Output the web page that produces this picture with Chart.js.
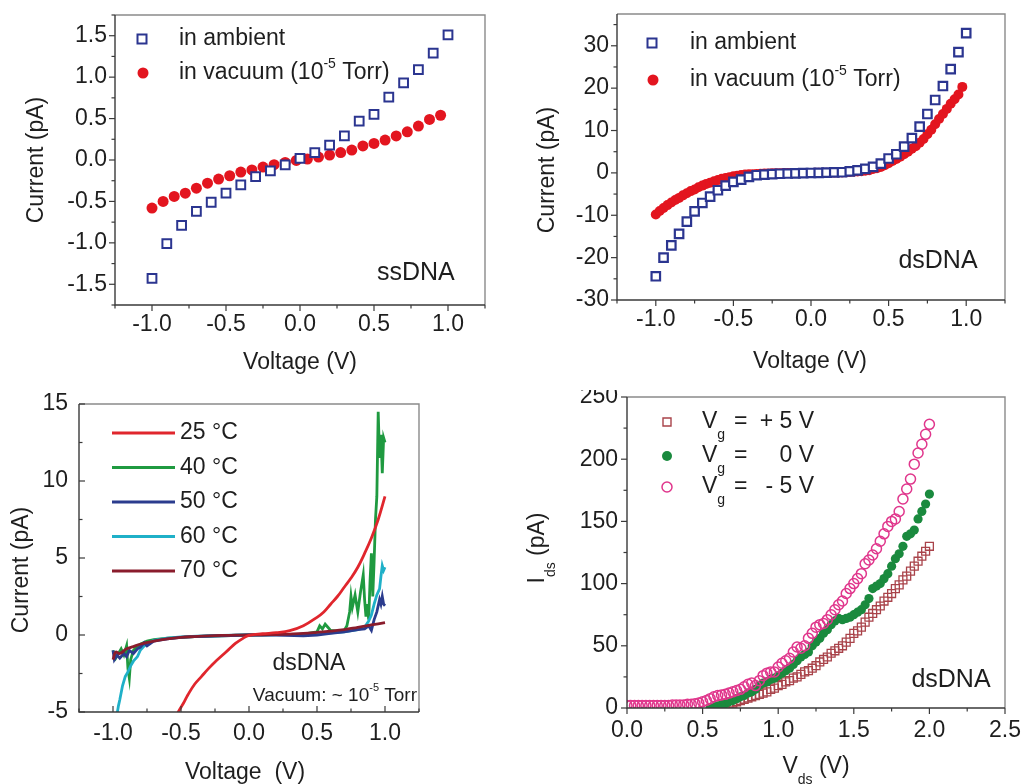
<!DOCTYPE html>
<html><head><meta charset="utf-8">
<script src="https://cdn.jsdelivr.net/npm/chart.js@4/dist/chart.umd.min.js"></script>
<style>
html,body{margin:0;padding:0;background:#fff;}
#wrap{position:relative;width:1022px;height:784px;overflow:hidden;background:#fff;}
canvas{position:absolute;}
</style></head><body>
<div id="wrap">
<canvas id="c1" width="510" height="390" style="left:0;top:0"></canvas>
<canvas id="c2" width="512" height="390" style="left:510px;top:0"></canvas>
<canvas id="c3" width="510" height="394" style="left:0;top:390px"></canvas>
<canvas id="c4" width="512" height="394" style="left:510px;top:390px"></canvas>
</div>
<script>
// ---------- Panel 1 : ssDNA ----------
const p1AmbV = [-1.0,-0.9,-0.8,-0.7,-0.6,-0.5,-0.4,-0.3,-0.2,-0.1,0.0,0.1,0.2,0.3,0.4,0.5,0.6,0.7,0.8,0.9,1.0];
const p1AmbI = [-1.43,-1.01,-0.79,-0.62,-0.51,-0.40,-0.30,-0.20,-0.13,-0.06,0.02,0.09,0.18,0.29,0.47,0.55,0.76,0.93,1.09,1.29,1.51];
const p1VacV = [-1.0,-0.925,-0.85,-0.775,-0.7,-0.625,-0.55,-0.475,-0.4,-0.325,-0.25,-0.175,-0.1,-0.025,0.05,0.125,0.2,0.275,0.35,0.425,0.5,0.575,0.65,0.725,0.8,0.875,0.95];
const p1VacI = [-0.58,-0.50,-0.44,-0.40,-0.34,-0.28,-0.23,-0.19,-0.145,-0.12,-0.085,-0.056,-0.03,-0.005,0.012,0.036,0.06,0.09,0.12,0.17,0.20,0.24,0.29,0.34,0.41,0.49,0.54];
const p1XTicks = [-1.0,-0.5,0.0,0.5,1.0];
const p1XMinor = [-1.25,-0.75,-0.25,0.25,0.75,1.25];
const p1YTicks = [-1.5,-1.0,-0.5,0.0,0.5,1.0,1.5];
const p1YMinor = [-1.75,-1.25,-0.75,-0.25,0.25,0.75,1.25,1.75];

// ---------- Panel 2 : dsDNA ambient vs vacuum ----------
const p2AmbV = [-1.0,-0.95,-0.9,-0.85,-0.8,-0.75,-0.7,-0.65,-0.6,-0.55,-0.5,-0.45,-0.4,-0.35,-0.3,-0.25,-0.2,-0.15,-0.1,-0.05,0.0,0.05,0.1,0.15,0.2,0.25,0.3,0.35,0.4,0.45,0.5,0.55,0.6,0.65,0.7,0.75,0.8,0.85,0.9,0.95,1.0];
const p2AmbI = [-24.4,-20.0,-17.1,-14.4,-11.5,-9.1,-7.1,-5.6,-4.1,-3.0,-2.1,-1.6,-0.95,-0.55,-0.4,-0.3,-0.2,-0.15,-0.1,-0.05,-0.02,0.0,0.05,0.1,0.15,0.35,0.6,0.95,1.4,2.2,3.4,4.4,6.2,8.2,10.9,13.9,17.2,20.5,24.5,28.5,33.0];
const p2VacV = [-1.0,-0.975,-0.95,-0.925,-0.9,-0.875,-0.85,-0.825,-0.8,-0.775,
 -0.75,-0.725,-0.7,-0.675,-0.65,-0.625,-0.6,-0.575,-0.55,-0.525,
 -0.5,-0.475,-0.45,-0.425,-0.4,-0.375,-0.35,-0.325,-0.3,-0.275,
 -0.25,-0.225,-0.2,-0.175,-0.15,-0.125,-0.1,-0.075,-0.05,-0.025,
 0.0,0.025,0.05,0.075,0.1,0.125,0.15,0.175,0.2,0.225,
 0.25,0.275,0.3,0.325,0.35,0.375,0.4,0.425,0.45,0.475,
 0.5,0.525,0.55,0.575,0.6,0.625,0.65,0.675,0.7,0.725,
 0.75,0.775,0.8,0.825,0.85,0.875,0.9,0.925,0.95,0.975];
const p2VacI = [-9.8,-9.0,-8.3,-7.6,-7.0,-6.4,-5.9,-5.3,-4.8,-4.3,
 -3.9,-3.4,-3.0,-2.6,-2.3,-2.0,-1.7,-1.4,-1.2,-1.0,
 -0.8,-0.65,-0.5,-0.4,-0.35,-0.3,-0.25,-0.2,-0.15,-0.12,
 -0.1,-0.08,-0.06,-0.05,-0.04,-0.03,-0.02,-0.01,0.0,0.0,
 0.0,0.01,0.02,0.03,0.04,0.05,0.07,0.09,0.12,0.15,
 0.2,0.25,0.32,0.4,0.5,0.62,0.9,1.1,1.4,1.8,
 2.3,2.8,3.3,3.8,4.4,5.0,5.7,6.3,7.1,8.0,
 9.1,10.2,11.5,12.7,13.9,15.1,16.3,17.4,18.5,20.3];
const p2XTicks = [-1.0,-0.5,0.0,0.5,1.0];
const p2XMinor = [-1.25,-0.75,-0.25,0.25,0.75,1.25];
const p2YTicks = [-30,-20,-10,0,10,20,30];
const p2YMinor = [-25,-15,-5,5,15,25,35];

// ---------- Panel 3 : temperature ----------
const p3V25 = [-0.55,-0.52,-0.48,-0.45,-0.4,-0.35,-0.3,-0.25,-0.2,-0.15,-0.1,-0.05,0.0,0.1,0.2,0.3,0.4,0.5,0.55,0.6,0.65,0.7,0.75,0.8,0.85,0.9,0.95,1.0];
const p3I25 = [-5.6,-5.0,-4.4,-3.9,-3.2,-2.7,-2.2,-1.75,-1.35,-0.95,-0.55,-0.25,-0.02,0.08,0.15,0.28,0.6,1.15,1.5,2.0,2.5,3.1,3.7,4.4,5.3,6.3,7.5,9.0];
const p3V40 = [-1.0,-0.98,-0.96,-0.94,-0.92,-0.9,-0.89,-0.88,-0.87,-0.85,-0.83,-0.8,-0.75,-0.7,-0.6,-0.4,-0.2,0.0,0.2,0.4,0.5,0.52,0.54,0.56,0.58,0.6,0.65,0.7,0.72,0.74,0.75,0.76,0.78,0.8,0.82,0.84,0.85,0.86,0.87,0.88,0.89,0.9,0.91,0.92,0.93,0.94,0.95,0.96,0.97,0.98,0.99,1.0];
const p3I40 = [-1.0,-1.5,-1.2,-0.9,-1.3,-0.7,-2.2,-2.8,-1.6,-1.0,-0.8,-0.6,-0.4,-0.3,-0.2,-0.1,-0.05,0.0,0.02,0.05,0.2,0.6,0.4,0.7,0.5,0.3,0.25,0.3,0.6,1.5,2.5,1.8,2.6,1.5,2.8,3.9,2.3,1.2,2.0,1.0,3.5,5.3,2.5,4.8,7.5,9.0,14.5,11.5,13.0,10.5,12.8,12.5];
const p3V50 = [-1.0,-0.99,-0.97,-0.95,-0.92,-0.9,-0.88,-0.85,-0.82,-0.8,-0.77,-0.75,-0.7,-0.6,-0.5,-0.4,-0.2,0.0,0.2,0.4,0.5,0.6,0.7,0.8,0.85,0.88,0.9,0.92,0.94,0.96,0.97,0.98,0.99,1.0];
const p3I50 = [-1.0,-1.6,-1.3,-1.5,-1.2,-1.4,-1.0,-1.2,-0.9,-0.8,-0.5,-0.7,-0.4,-0.25,-0.15,-0.1,-0.05,0.0,0.0,-0.05,0.0,0.1,0.2,0.35,0.4,0.6,0.3,1.0,1.5,2.3,2.0,2.5,2.0,1.9];
const p3V60 = [-0.975,-0.96,-0.95,-0.93,-0.91,-0.89,-0.87,-0.85,-0.82,-0.8,-0.77,-0.75,-0.7,-0.6,-0.5,-0.3,0.0,0.3,0.5,0.7,0.8,0.85,0.88,0.9,0.92,0.94,0.96,0.97,0.98,0.99,1.0];
const p3I60 = [-5.4,-4.6,-4.2,-3.3,-2.7,-2.4,-2.0,-1.7,-1.4,-1.0,-0.7,-0.6,-0.35,-0.2,-0.12,-0.05,0.0,0.02,0.08,0.2,0.35,0.5,0.9,1.3,2.0,2.6,3.0,3.8,4.5,4.2,4.4];
const p3V70 = [-1.0,-0.98,-0.95,-0.9,-0.85,-0.8,-0.7,-0.6,-0.5,-0.4,-0.3,-0.2,-0.1,0.0,0.1,0.2,0.3,0.4,0.5,0.6,0.7,0.8,0.9,1.0];
const p3I70 = [-1.6,-1.1,-1.2,-0.9,-0.75,-0.6,-0.4,-0.25,-0.15,-0.1,-0.06,-0.03,-0.01,0.0,0.01,0.03,0.06,0.1,0.17,0.25,0.35,0.5,0.65,0.8];
const p3Temps = ['25 °C','40 °C','50 °C','60 °C','70 °C'];
const p3XTicks = [-1.0,-0.5,0.0,0.5,1.0];
const p3XMinor = [-1.25,-0.75,-0.25,0.25,0.75,1.25];
const p3YTicks = [-5,0,5,10,15];
const p3YMinor = [-2.5,2.5,7.5,12.5];

// ---------- Panel 4 : gate voltage ----------
const p4Vds = [0.0,0.025,0.05,0.075,0.1,0.125,0.15,0.175,0.2,0.225,
 0.25,0.275,0.3,0.325,0.35,0.375,0.4,0.425,0.45,0.475,
 0.5,0.525,0.55,0.575,0.6,0.625,0.65,0.675,0.7,0.725,
 0.75,0.775,0.8,0.825,0.85,0.875,0.9,0.925,0.95,0.975,
 1.0,1.025,1.05,1.075,1.1,1.125,1.15,1.175,1.2,1.225,
 1.25,1.275,1.3,1.325,1.35,1.375,1.4,1.425,1.45,1.475,
 1.5,1.525,1.55,1.575,1.6,1.625,1.65,1.675,1.7,1.725,
 1.75,1.775,1.8,1.825,1.85,1.875,1.9,1.925,1.95,1.975,2.0];
const p4IPlus5 = [null,null,null,null,null,null,null,null,null,null,
 null,null,null,null,null,null,null,null,null,null,
 null,null,null,null,0.5,1.5,2.5,3,4,5,
 6,7,8,9,10,11,12,13,15,16,
 18,19,21,22,24,25,27,29,30,32,
 34,37,39,41,44,46,48,50,53,56,
 60,62,65,69,73,76,79,82,86,89,
 92,96,99,103,106,110,114,118,122,126,130];
const p4IZero = [null,null,null,null,null,null,null,null,null,null,
 null,null,null,null,null,null,null,null,null,null,
 null,null,0,1,1.5,2.5,3.5,5,6,7.5,
 9,10,12,13,15,18,20,21,23,24,
 26,28,30,32,35,38,41,43,45,50,
 53,56,60,63,67,70,72,71,72,73,
 75,77,79,83,88,96,98,100,104,108,
 114,120,124,130,138,140,143,152,158,164,172];
const p4IMinus5 = [2,2,2,2,2,2,2,2,2,2,
 2,2,2.5,2.5,2.5,2.5,3,3,3.5,4,
 5,6,7.5,9,10,10.5,11,12,13,14,
 15,17,19,20,18,22,26,28,29,29,
 33,36,38,40,45,49,48,50,56,60,
 65,67,68,71,75,79,83,86,92,96,
 100,104,108,116,119,123,128,134,140,146,
 150,152,158,168,176,184,196,205,212,220,228];
const p4XTicks = [0.0,0.5,1.0,1.5,2.0,2.5];
const p4XMinor = [0.25,0.75,1.25,1.75,2.25];
const p4YTicks = [0,50,100,150,200,250];
const p4YMinor = [25,75,125,175,225];

// ---------- helpers ----------
const FF = '"Liberation Sans", Arial, Helvetica, sans-serif';
const TXT = '#1e1e1e';
const NAVY = '#2b3590', RED = '#e3151f';
const pts = (xs, ys) => xs.map((v,i)=>({x:v, y:ys[i]})).filter(p=>p.y!==null);

function drawRich(ctx, x, y, parts, size, align) {
  const ss = Math.round(size*0.6);
  let w = 0;
  const ws = parts.map(([t,m]) => { ctx.font = (m?ss:size)+'px '+FF; const ww = ctx.measureText(t).width; w += ww; return ww; });
  let cx = align==='center' ? x - w/2 : align==='right' ? x - w : x;
  ctx.textBaseline = 'middle'; ctx.textAlign = 'left'; ctx.fillStyle = TXT;
  parts.forEach(([t,m],i) => {
    ctx.font = (m?ss:size)+'px '+FF;
    const dy = m===1 ? -size*0.40 : m===-1 ? size*0.55 : 0;
    ctx.fillText(t, cx, y+dy);
    cx += ws[i];
  });
}
function drawMarker(ctx, m) {
  ctx.save();
  if (m.type==='rect') {
    const s=m.size; ctx.fillStyle='#fff'; ctx.strokeStyle=m.color; ctx.lineWidth=m.lw||2;
    ctx.beginPath(); ctx.rect(m.x-s/2, m.y-s/2, s, s); ctx.fill(); ctx.stroke();
  } else if (m.type==='dot') {
    ctx.fillStyle=m.color; ctx.beginPath(); ctx.arc(m.x,m.y,m.size,0,Math.PI*2); ctx.fill();
  } else if (m.type==='ring') {
    ctx.fillStyle='#fff'; ctx.strokeStyle=m.color; ctx.lineWidth=m.lw||1.5;
    ctx.beginPath(); ctx.arc(m.x,m.y,m.size,0,Math.PI*2); ctx.fill(); ctx.stroke();
  } else if (m.type==='line') {
    ctx.strokeStyle=m.color; ctx.lineWidth=2.8;
    ctx.beginPath(); ctx.moveTo(m.x, m.y); ctx.lineTo(m.x2, m.y); ctx.stroke();
  }
  ctx.restore();
}

const deco = {
  id: 'deco',
  afterDatasetsDraw(chart, args, o) {
    if (!o || !o.xMajor) return;
    const ctx = chart.ctx, a = chart.chartArea, xs = chart.scales.x, ys = chart.scales.y;
    ctx.save();
    ctx.lineWidth = 1.4;
    ctx.strokeStyle = '#8a8a8a';
    ctx.beginPath(); ctx.moveTo(a.left, a.top); ctx.lineTo(a.right, a.top); ctx.lineTo(a.right, a.bottom); ctx.stroke();
    ctx.strokeStyle = '#3a3a3a';
    ctx.beginPath(); ctx.moveTo(a.left, a.top); ctx.lineTo(a.left, a.bottom); ctx.lineTo(a.right, a.bottom); ctx.stroke();
    const dir = o.inward ? -1 : 1;
    ctx.lineWidth = 1.2;
    const tx = (vals, len) => vals.forEach(v => { const p = xs.getPixelForValue(v); ctx.beginPath(); ctx.moveTo(p, a.bottom); ctx.lineTo(p, a.bottom + dir*len); ctx.stroke(); });
    const ty = (vals, len) => vals.forEach(v => { const p = ys.getPixelForValue(v); ctx.beginPath(); ctx.moveTo(a.left, p); ctx.lineTo(a.left - dir*len, p); ctx.stroke(); });
    tx(o.xMajor, 6); tx(o.xMinor, 3.5); ty(o.yMajor, 6); ty(o.yMinor, 3.5);
    ctx.restore();
  },
  afterDraw(chart, args, o) {
    if (!o || !o.texts) return;
    const ctx = chart.ctx;
    ctx.save();
    (o.markers||[]).forEach(m => drawMarker(ctx, m));
    o.texts.forEach(t => {
      ctx.save();
      if (t.rot) { ctx.translate(t.x, t.y); ctx.rotate(-Math.PI/2); drawRich(ctx, 0, 0, t.parts, t.size, t.align||'center'); }
      else drawRich(ctx, t.x, t.y, t.parts, t.size, t.align||'left');
      ctx.restore();
    });
    ctx.restore();
  }
};
Chart.register(deco);
Chart.defaults.font.family = FF;
Chart.defaults.color = TXT;

function build(id, o) {
  const fmt = o.fmt || (v => Number(v).toFixed(1));
  const yfmt = o.yfmt || (v => String(v));
  return new Chart(document.getElementById(id), {
    type: 'scatter',
    data: { datasets: o.datasets },
    options: {
      responsive: false, animation: false, devicePixelRatio: 1,
      layout: { padding: { top: o.pad.top, right: o.pad.right, left: 0, bottom: 0 } },
      plugins: { legend: { display: false }, tooltip: { enabled: false }, deco: o.deco },
      scales: {
        x: { type: 'linear', min: o.xr[0], max: o.xr[1],
             grid: { display: false, drawTicks: false }, border: { display: false },
             ticks: { padding: o.xpad, font: { size: o.fs }, color: TXT, maxRotation: 0, autoSkip: false, callback: fmt },
             afterBuildTicks(s) { s.ticks = o.deco.xMajor.map(v => ({ value: v })); },
             afterFit(s) { s.height = o.xh; s.paddingLeft = 0; s.paddingRight = 0; } },
        y: { type: 'linear', min: o.yr[0], max: o.yr[1],
             grid: { display: false, drawTicks: false }, border: { display: false },
             ticks: { padding: o.ypad, font: { size: o.fs }, color: TXT, autoSkip: false, callback: yfmt },
             afterBuildTicks(s) { s.ticks = o.deco.yMajor.map(v => ({ value: v })); },
             afterFit(s) { s.width = o.yw; s.paddingTop = 0; s.paddingBottom = 0; } }
      }
    }
  });
}

// Panel 1
build('c1', {
  xr: [-1.25, 1.25], yr: [-1.75, 1.75], pad: { top: 15, right: 25 }, xh: 85, yw: 115, xpad: 6, ypad: 8, fs: 23,
  yfmt: v => Number(v).toFixed(1),
  datasets: [
    { label: 'in ambient', data: pts(p1AmbV, p1AmbI), pointStyle: 'rect', pointRadius: 6.2, borderColor: NAVY, backgroundColor: '#fff', borderWidth: 2 },
    { label: 'in vacuum (10-5 Torr)', data: pts(p1VacV, p1VacI), pointStyle: 'circle', pointRadius: 5.5, borderWidth: 0, backgroundColor: RED, borderColor: RED }
  ],
  deco: {
    xMajor: p1XTicks, xMinor: p1XMinor, yMajor: p1YTicks, yMinor: p1YMinor,
    markers: [ { type: 'rect', x: 142, y: 39, size: 9, color: NAVY }, { type: 'dot', x: 143, y: 73, size: 5.5, color: RED } ],
    texts: [
      { x: 179, y: 39, size: 23, parts: [['in ambient',0]] },
      { x: 179, y: 73, size: 23, parts: [['in vacuum (10',0],['-5',1],[' Torr)',0]] },
      { x: 377, y: 273, size: 25, parts: [['ssDNA',0]] },
      { x: 37, y: 160, size: 23, rot: true, parts: [['Current (pA)',0]] },
      { x: 300, y: 363, size: 23, align: 'center', parts: [['Voltage (V)',0]] }
    ]
  }
});

// Panel 2
build('c2', {
  xr: [-1.25, 1.25], yr: [-30, 37.5], pad: { top: 14, right: 17 }, xh: 90, yw: 107, xpad: 6, ypad: 8, fs: 23,
  datasets: [
    { label: 'in ambient', data: pts(p2AmbV, p2AmbI), pointStyle: 'rect', pointRadius: 6, borderColor: NAVY, backgroundColor: '#fff', borderWidth: 2.2 },
    { label: 'in vacuum (10-5 Torr)', data: pts(p2VacV, p2VacI), pointStyle: 'circle', pointRadius: 5, borderWidth: 0, backgroundColor: RED, borderColor: RED }
  ],
  deco: {
    xMajor: p2XTicks, xMinor: p2XMinor, yMajor: p2YTicks, yMinor: p2YMinor,
    markers: [ { type: 'rect', x: 142, y: 43, size: 9, color: NAVY }, { type: 'dot', x: 143, y: 80, size: 5.5, color: RED } ],
    texts: [
      { x: 180, y: 43, size: 23, parts: [['in ambient',0]] },
      { x: 180, y: 80, size: 23, parts: [['in vacuum (10',0],['-5',1],[' Torr)',0]] },
      { x: 428, y: 261, size: 25, align: 'center', parts: [['dsDNA',0]] },
      { x: 38, y: 170, size: 23, rot: true, parts: [['Current (pA)',0]] },
      { x: 300, y: 362, size: 23, align: 'center', parts: [['Voltage (V)',0]] }
    ]
  }
});

// Panel 3
const C25 = '#e0262d', C40 = '#1f9a40', C50 = '#2b3c8e', C60 = '#1fb0c8', C70 = '#8a1c2c';
const lineDs = (lab, xs, ys, c, t) => ({ label: lab, data: pts(xs, ys), showLine: true, borderColor: c, backgroundColor: c, borderWidth: 2.8, pointRadius: 0, tension: t||0 });
build('c3', {
  xr: [-1.25, 1.25], yr: [-5, 15], pad: { top: 14, right: 91 }, xh: 72, yw: 79, xpad: 8, ypad: 11, fs: 23,
  datasets: [
    lineDs(p3Temps[0], p3V25, p3I25, C25, 0.4),
    lineDs(p3Temps[4], p3V70, p3I70, C70, 0.4),
    lineDs(p3Temps[2], p3V50, p3I50, C50),
    lineDs(p3Temps[3], p3V60, p3I60, C60),
    lineDs(p3Temps[1], p3V40, p3I40, C40)
  ],
  deco: {
    inward: true,
    xMajor: p3XTicks, xMinor: p3XMinor, yMajor: p3YTicks, yMinor: p3YMinor,
    markers: [
      { type: 'line', x: 112, x2: 175, y: 43, color: C25 },
      { type: 'line', x: 112, x2: 175, y: 77.5, color: C40 },
      { type: 'line', x: 112, x2: 175, y: 112, color: C50 },
      { type: 'line', x: 112, x2: 175, y: 146.5, color: C60 },
      { type: 'line', x: 112, x2: 175, y: 181, color: C70 }
    ],
    texts: [
      { x: 180, y: 43, size: 23, parts: [[p3Temps[0],0]] },
      { x: 180, y: 77.5, size: 23, parts: [[p3Temps[1],0]] },
      { x: 180, y: 112, size: 23, parts: [[p3Temps[2],0]] },
      { x: 180, y: 146.5, size: 23, parts: [[p3Temps[3],0]] },
      { x: 180, y: 181, size: 23, parts: [[p3Temps[4],0]] },
      { x: 309, y: 274, size: 23, align: 'center', parts: [['dsDNA',0]] },
      { x: 417, y: 306, size: 19, align: 'right', parts: [['Vacuum: ~ 10',0],['-5',1],[' Torr',0]] },
      { x: 22, y: 180, size: 23, rot: true, parts: [['Current (pA)',0]] },
      { x: 245, y: 383, size: 23, align: 'center', parts: [['Voltage  (V)',0]] }
    ]
  }
});

// Panel 4
const CP5 = '#a9434a', CZ = '#1a8a3e', CM5 = '#e0368c';
build('c4', {
  xr: [0, 2.5], yr: [0, 250], pad: { top: 7, right: 17 }, xh: 76, yw: 117, xpad: 9, ypad: 9, fs: 23,
  datasets: [
    { label: 'Vg = -5 V', data: pts(p4Vds, p4IMinus5), pointStyle: 'circle', pointRadius: 5, borderColor: CM5, backgroundColor: 'rgba(255,255,255,0)', borderWidth: 1.5 },
    { label: 'Vg = 0 V', data: pts(p4Vds, p4IZero), pointStyle: 'circle', pointRadius: 4.6, borderColor: CZ, backgroundColor: CZ, borderWidth: 0 },
    { label: 'Vg = +5 V', data: pts(p4Vds, p4IPlus5), pointStyle: 'rect', pointRadius: 5.6, borderColor: CP5, backgroundColor: 'rgba(255,255,255,0)', borderWidth: 1.3 }
  ],
  deco: {
    xMajor: p4XTicks, xMinor: p4XMinor, yMajor: p4YTicks, yMinor: p4YMinor,
    markers: [
      { type: 'rect', x: 157, y: 32, size: 8, color: CP5, lw: 1.4 },
      { type: 'dot', x: 157, y: 66, size: 5, color: CZ },
      { type: 'ring', x: 157, y: 97, size: 5, color: CM5, lw: 1.5 }
    ],
    texts: [
      { x: 192, y: 32, size: 23, parts: [['V',0],['g',-1]] },
      { x: 224, y: 32, size: 23, parts: [['=',0]] },
      { x: 304, y: 32, size: 23, align: 'right', parts: [['+ 5 V',0]] },
      { x: 192, y: 66, size: 23, parts: [['V',0],['g',-1]] },
      { x: 224, y: 66, size: 23, parts: [['=',0]] },
      { x: 304, y: 66, size: 23, align: 'right', parts: [['0 V',0]] },
      { x: 192, y: 97, size: 23, parts: [['V',0],['g',-1]] },
      { x: 224, y: 97, size: 23, parts: [['=',0]] },
      { x: 304, y: 97, size: 23, align: 'right', parts: [['- 5 V',0]] },
      { x: 441, y: 290, size: 25, align: 'center', parts: [['dsDNA',0]] },
      { x: 28, y: 158, size: 23, rot: true, parts: [['I',0],['ds',-1],[' (pA)',0]] },
      { x: 306, y: 377, size: 23, align: 'center', parts: [['V',0],['ds',-1],[' (V)',0]] }
    ]
  }
});
</script>
</body></html>
